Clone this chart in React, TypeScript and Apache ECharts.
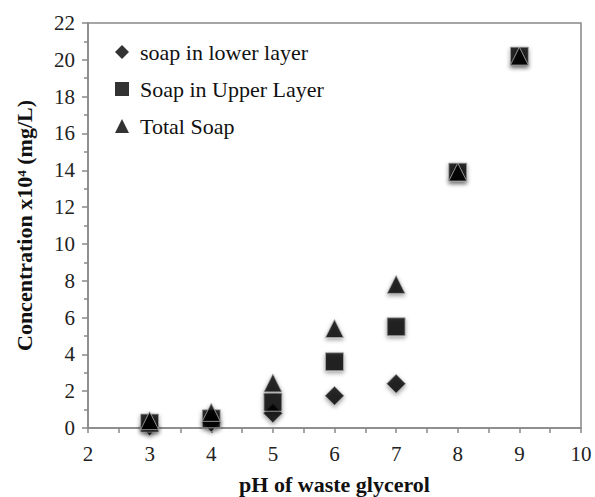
import React, { useEffect, useRef } from "react";
import * as echarts from "echarts";

const phValues = [3, 4, 5, 6, 7, 8, 9];
const soapLowerLayer = [0.1, 0.3, 0.8, 1.75, 2.4, null, null];
const soapUpperLayer = [0.27, 0.5, 1.4, 3.6, 5.5, 13.9, 20.2];
const totalSoap = [0.4, 0.85, 2.45, 5.4, 7.8, 13.9, 20.2];
const seriesNames = ["soap in lower layer", "Soap in Upper Layer", "Total Soap"];

const FONT = "Liberation Serif";

function pairs(vals: (number | null)[]) {
  return phValues.map((x, i) => [x, vals[i]]).filter((p) => p[1] !== null);
}

export default function App() {
  const ref = useRef<HTMLDivElement>(null);
  useEffect(() => {
    if (!ref.current) return;
    const chart = echarts.init(ref.current, null, { renderer: "svg" });
    const markerStyle = {
      color: "#000",
      borderColor: "#aaa",
      borderWidth: 1,
      shadowBlur: 4,
      shadowColor: "rgba(0,0,0,0.45)",
      shadowOffsetY: 2,
    };
    chart.setOption({
      animation: false,
      backgroundColor: "#fff",
      textStyle: { fontFamily: FONT },
      grid: {
        left: 88, right: 14, top: 23, bottom: 69,
        outerBoundsMode: "none",
        containLabel: false,
        show: true, borderColor: "#888", borderWidth: 1.5,
      },
      legend: {
        orient: "vertical",
        left: 110,
        top: 36,
        itemGap: 15,
        itemWidth: 14,
        itemHeight: 14,
        textStyle: { fontFamily: FONT, fontSize: 22, color: "#111", padding: [0, 0, 0, 6] },
        data: seriesNames.map((n, i) => ({
          name: n,
          icon: ["diamond", "rect", "triangle"][i],
          itemStyle: { color: "#000", borderWidth: 0, shadowBlur: 0 },
        })),
      },
      xAxis: {
        type: "value",
        min: 2,
        max: 10,
        interval: 1,
        name: "pH of waste glycerol",
        nameLocation: "middle",
        nameGap: 45,
        nameMoveOverlap: false,
        nameTextStyle: { fontFamily: FONT, fontSize: 22, fontWeight: "bold", color: "#111", verticalAlign: "top" },
        axisLine: { show: true, lineStyle: { color: "#888", width: 1.5 } },
        axisTick: { show: true, length: 5, lineStyle: { color: "#888", width: 1.5 } },
        minorTick: { show: true, splitNumber: 2, length: 5, lineStyle: { color: "#888", width: 1.5 } },
        splitLine: { show: false },
        axisLabel: { fontFamily: FONT, fontSize: 21, color: "#222", margin: 15 },
      },
      yAxis: {
        type: "value",
        min: 0,
        max: 22,
        interval: 2,
        name: "Concentration x10\u2074 (mg/L)",
        nameLocation: "middle",
        nameGap: 53,
        nameMoveOverlap: false,
        nameTextStyle: { fontFamily: FONT, fontSize: 22, fontWeight: "bold", color: "#111" },
        axisLine: { show: true, lineStyle: { color: "#888", width: 1.5 } },
        axisTick: { show: true, length: 6, lineStyle: { color: "#888", width: 1.5 } },
        minorTick: { show: true, splitNumber: 2, length: 4, lineStyle: { color: "#888", width: 1.5 } },
        splitLine: { show: false },
        axisLabel: { fontFamily: FONT, fontSize: 21, color: "#222", margin: 13 },
      },
      series: [
        { name: seriesNames[0], type: "scatter", symbol: "diamond", symbolSize: 19, data: pairs(soapLowerLayer), itemStyle: markerStyle },
        { name: seriesNames[1], type: "scatter", symbol: "rect", symbolSize: 18, data: pairs(soapUpperLayer), itemStyle: markerStyle },
        { name: seriesNames[2], type: "scatter", symbol: "triangle", symbolSize: 18, data: pairs(totalSoap), itemStyle: markerStyle },
      ],
    });
    return () => chart.dispose();
  }, []);
  return <div ref={ref} style={{ position: "absolute", left: 0, top: 0, width: 595, height: 497 }} />;
}
